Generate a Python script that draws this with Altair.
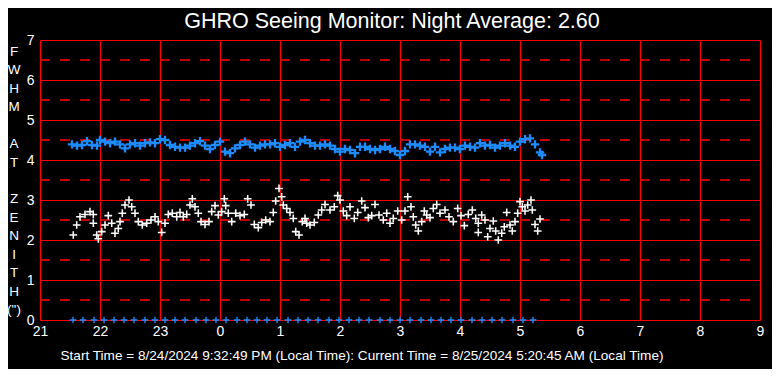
import altair as alt
import pandas as pd

# minutes since 21:00 local time
blue_min = [32, 37, 42, 47, 52, 57, 60, 65, 70, 75, 80, 85, 90, 95, 100, 105, 110, 115, 120, 125, 130, 135, 140,
            145, 150, 155, 160, 165, 170, 175, 180, 185, 190, 195, 200, 205, 210, 215, 220, 225, 230, 235, 240, 245, 250, 255, 260,
            265, 270, 275, 280, 285, 290, 295, 300, 305, 310, 315, 320, 325, 330, 335, 340, 345, 350, 355, 360, 365, 370, 375, 380,
            385, 390, 395, 400, 405, 410, 415, 420, 425, 430, 435, 440, 445, 450, 455, 460, 465, 470, 475, 480, 485, 490, 495, 500, 502]
blue_val = [4.39, 4.36, 4.375, 4.47, 4.375, 4.36, 4.5, 4.46, 4.42, 4.46, 4.39, 4.29, 4.39, 4.42, 4.36, 4.42, 4.44, 4.42, 4.52, 4.5, 4.375, 4.33, 4.31,
            4.31, 4.36, 4.42, 4.47, 4.36, 4.275, 4.375, 4.46, 4.21, 4.17, 4.29, 4.375, 4.46, 4.39, 4.31, 4.36, 4.39, 4.39, 4.42, 4.33, 4.375, 4.42, 4.33, 4.46,
            4.5, 4.42, 4.36, 4.36, 4.39, 4.36, 4.275, 4.21, 4.275, 4.25, 4.17, 4.33, 4.33, 4.275, 4.25, 4.275, 4.33, 4.275, 4.225, 4.125, 4.225, 4.39, 4.39, 4.36,
            4.33, 4.21, 4.33, 4.19, 4.275, 4.31, 4.31, 4.275, 4.36, 4.33, 4.31, 4.42, 4.36, 4.375, 4.31, 4.36, 4.42, 4.36, 4.33, 4.46, 4.52, 4.54, 4.39, 4.19, 4.125]

white_min = [33.3, 36.7, 40, 45, 50, 53.3, 53.3, 56.7, 58.3, 61.7, 65, 68.3, 71.7, 75, 78.3, 80, 82.3, 85, 89, 91.7, 95, 98.3, 102.3,
             106.7, 111, 115, 118.3, 121.7, 125, 128.3, 132.3, 136.7, 140, 143.3,
             146.7, 150, 152.3, 155, 158.3, 161, 165, 169, 171.7, 175, 178.3, 181.7, 184.3, 185.7, 188.3, 191.7, 195.7, 200, 204.3,
             207.7, 211, 214.3, 218.3, 221.7, 225.7, 230, 233.3, 235.7, 239, 241.7, 243.3, 246.7, 250, 253.3, 255.7, 259, 262.3, 265,
             266.7, 270, 274.3, 278.3, 281.7, 285, 290, 294.3, 297.7, 300, 303.3, 306.7, 310, 314.3, 317.7, 321.7, 325, 328.3, 331.7,
             335, 339, 343.3, 346.7, 350, 353.3, 357.7, 361.7, 365, 367.7, 371, 373.3, 375.7, 378.3, 381.7, 384.3,
             386.7, 390, 393.3, 396.7, 400, 405, 409, 413.3, 417.7, 421, 424.3, 428.3, 432.3, 435.7, 438.3, 438.3, 441.7, 445,
             447.7, 450, 453.3, 455.7, 458.3, 461.7, 464.3, 466.7, 470, 472.3, 475, 477.7, 480, 482.3, 485, 487.7, 491, 492.3,
             495, 497.7, 500]
white_val = [2.125, 2.375, 2.58, 2.64, 2.71, 2.64, 2.42, 2.125, 2.03, 2.21, 2.375, 2.61, 2.42, 2.17, 2.29, 2.46, 2.67, 2.875, 3.0, 2.83, 2.67, 2.46, 2.375,
             2.42, 2.5, 2.58, 2.46, 2.19, 2.42, 2.64, 2.67, 2.58, 2.69, 2.58,
             2.64, 2.875, 3.03, 2.83, 2.67, 2.46, 2.39, 2.46, 2.71, 2.86, 2.625, 2.71, 3.03, 2.86, 2.67, 2.46, 2.67, 2.61, 2.64,
             3.03, 2.875, 2.39, 2.31, 2.44, 2.5, 2.46, 2.69, 2.975, 3.29, 3.08, 2.875, 2.79, 2.69, 2.54, 2.21, 2.125, 2.46, 2.54,
             2.42, 2.375, 2.44, 2.625, 2.75, 2.89, 2.75, 2.83, 3.11, 3.0, 2.725, 2.61, 2.83, 2.54, 2.69, 2.975, 2.81, 2.56, 2.61,
             2.89, 2.625, 2.5, 2.67, 2.42, 2.54, 2.725, 2.5, 2.725, 3.08, 2.83, 2.58, 2.375, 2.225, 2.46, 2.725,
             2.625, 2.56, 2.79, 2.89, 2.67, 2.75, 2.58, 2.46, 2.79, 2.61, 2.36, 2.64, 2.75, 2.54, 2.42, 2.19, 2.625, 2.5,
             2.08, 2.29, 2.475, 2.225, 2.0, 2.17, 2.33, 2.69, 2.375, 2.225, 2.46, 2.67, 2.96, 2.83, 2.725, 2.875, 3.0, 2.75,
             2.39, 2.225, 2.525]

zero_min = [33, 43, 54, 64, 74, 84, 94, 105, 115, 125, 135, 145, 156, 166, 176, 186, 197, 207, 217, 227, 237, 248, 258,
            268, 278, 289, 299, 309, 319, 329, 340, 350, 360, 370, 381, 391, 401, 411, 421, 432, 442, 452, 462, 473, 483, 493]
zero_val = [0] * len(zero_min)

half_lines = [0.5, 1.5, 2.5, 3.5, 4.5, 5.5, 6.5]
x_ticks = [0, 60, 120, 180, 240, 300, 360, 420, 480, 540, 600, 660, 720]
y_ticks = [0, 1, 2, 3, 4, 5, 6, 7]

title_text = "GHRO Seeing Monitor: Night Average: 2.60"
footer_text = "Start Time = 8/24/2024 9:32:49 PM (Local Time): Current Time = 8/25/2024 5:20:45 AM (Local Time)"
ylabel_lines = ["F", "W", "H", "M", "", "A", "T", "", "Z", "E", "N", "I", "T", "H", "(\")"]

RED = "#FF0000"
BLUE = "#1E8CFF"
FONT = "Liberation Sans"
CROSS_THICK = "M-1,-0.28H-0.28V-1H0.28V-0.28H1V0.28H0.28V1H-0.28V0.28H-1Z"
CROSS_THIN = "M-1,-0.2H-0.2V-1H0.2V-0.2H1V0.2H0.2V1H-0.2V0.2H-1Z"

xscale = alt.Scale(domain=[0, 720], nice=False, zero=False)
yscale = alt.Scale(domain=[0, 7], nice=False)

xaxis = alt.Axis(values=x_ticks, labelExpr="(21 + datum.value / 60) % 24", grid=True, gridColor=RED,
                 gridWidth=1.2, gridOpacity=1, domain=False, ticks=False, labelColor="white", labelFont=FONT,
                 labelFontSize=14, labelPadding=4, title=None, labelFlush=False, labelOverlap=False)
yaxis = alt.Axis(values=y_ticks, grid=True, gridColor=RED, gridWidth=1.2, gridOpacity=1, domain=False,
                 ticks=False, labelColor="white", labelFont=FONT, labelFontSize=14, labelPadding=6, title=None,
                 labelFlush=False, labelOverlap=False)

blue_df = pd.DataFrame({"t": blue_min, "v": blue_val})
white_df = pd.DataFrame({"t": white_min, "v": white_val})
zero_df = pd.DataFrame({"t": zero_min, "v": zero_val})
half_df = pd.DataFrame({"v": half_lines})

dashes = alt.Chart(half_df).mark_rule(color=RED, strokeWidth=1.5, strokeDash=[10, 10]).encode(
    y=alt.Y("v:Q", scale=yscale, axis=yaxis), x=alt.value(0), x2=alt.value(720))

blue = alt.Chart(blue_df).mark_point(shape=CROSS_THICK, filled=True, color=BLUE, size=70, opacity=1).encode(
    x=alt.X("t:Q", scale=xscale, axis=xaxis), y=alt.Y("v:Q", scale=yscale, axis=yaxis))

white = alt.Chart(white_df).mark_point(shape=CROSS_THIN, filled=True, color="white", size=60, opacity=1).encode(
    x=alt.X("t:Q", scale=xscale, axis=xaxis), y=alt.Y("v:Q", scale=yscale, axis=yaxis))

zeros = alt.Chart(zero_df).mark_point(shape=CROSS_THIN, filled=True, color=BLUE, size=45, opacity=1).encode(
    x=alt.X("t:Q", scale=xscale, axis=xaxis), y=alt.Y("v:Q", scale=yscale, axis=yaxis))

one = pd.DataFrame({"a": [1]})
title = alt.Chart(one).mark_text(text=title_text, color="white", font=FONT, fontSize=21.5,
                                 baseline="alphabetic", align="center").encode(x=alt.value(352), y=alt.value(-12))
footer = alt.Chart(one).mark_text(text=footer_text, color="white", font=FONT, fontSize=13.6,
                                  baseline="alphabetic", align="center").encode(x=alt.value(322), y=alt.value(320))

letter_layers = []
for i, ch in enumerate(ylabel_lines):
    if ch:
        letter_layers.append(
            alt.Chart(one).mark_text(text=ch, color="white", font=FONT, fontSize=13.5,
                                     baseline="middle", align="center")
            .encode(x=alt.value(-26), y=alt.value(12 + i * 18.43))
        )

chart = alt.layer(dashes, blue, white, zeros, title, footer, *letter_layers).properties(
    width=720, height=280, background="black",
    autosize=alt.AutoSizeParams(type="none"),
    padding={"left": 32, "top": 32, "right": 12, "bottom": 49},
).configure_view(stroke=None)

chart.save("out.html", embed_options={"renderer": "svg", "actions": False})
